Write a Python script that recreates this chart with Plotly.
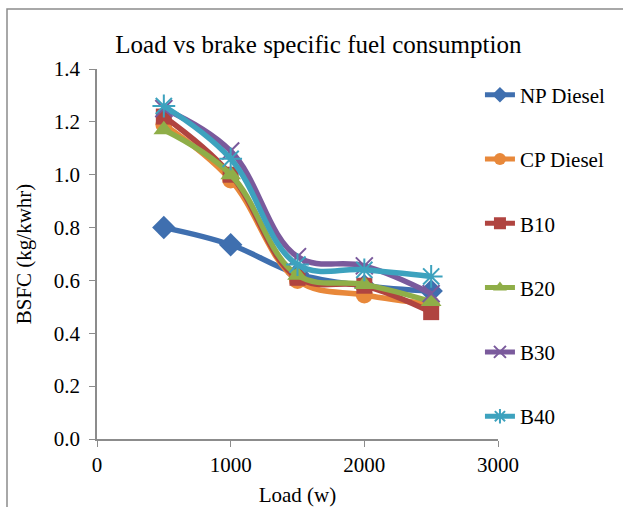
import plotly.graph_objects as go

load = [500, 1000, 1500, 2000, 2500]
np_diesel = [0.80, 0.735, 0.625, 0.58, 0.56]
cp_diesel = [1.19, 0.98, 0.60, 0.545, 0.51]
b10 = [1.22, 1.00, 0.61, 0.58, 0.48]
b20 = [1.17, 1.00, 0.62, 0.585, 0.52]
b30 = [1.25, 1.09, 0.69, 0.655, 0.55]
b40 = [1.26, 1.06, 0.66, 0.64, 0.615]

names = ["NP Diesel", "CP Diesel", "B10", "B20", "B30", "B40"]
series = [np_diesel, cp_diesel, b10, b20, b30, b40]
colors = ["#3F6FAF", "#E8883A", "#B04440", "#8FAE48", "#7A5A9C", "#3DA2BE"]
symbols = ["diamond", "circle", "square", "triangle-up", "x-thin-open", "asterisk-open"]
sizes = [18, 17, 16, 18, 17, 19]

fig = go.Figure()
for i, (n, s) in enumerate(zip(names, series)):
    open_sym = symbols[i].endswith("open")
    fig.add_trace(go.Scatter(
        x=load, y=s, name=n, mode="lines+markers",
        line=dict(color=colors[i], width=5.5, shape="spline", smoothing=1.1),
        marker=dict(symbol=symbols[i], size=sizes[i], color=colors[i],
                    line=dict(color=colors[i], width=2 if open_sym else 0)),
        legendgroup=n,
    ))

serif = "Liberation Serif"
axis_font = dict(family=serif, size=21, color="#000")
fig.update_layout(
    width=623, height=507,
    paper_bgcolor="white", plot_bgcolor="white",
    margin=dict(l=97, r=125, t=69, b=68, autoexpand=False),
    title=dict(text="Load vs brake specific fuel consumption",
               font=dict(family=serif, size=25, color="#000"),
               x=0.511, xanchor="center", y=0.912, yanchor="middle"),
    xaxis=dict(range=[0, 3000], tickvals=[0, 1000, 2000, 3000],
               showgrid=False, zeroline=False, showline=True,
               linecolor="#8c8c8c", linewidth=1.5, automargin=False,
               ticks="outside", ticklen=6, tickcolor="#8c8c8c",
               tickfont=axis_font,
               title=dict(text="Load (w)", font=dict(family=serif, size=21, color="#000"), standoff=12)),
    yaxis=dict(range=[0, 1.4], tickvals=[0, 0.2, 0.4, 0.6, 0.8, 1.0, 1.2, 1.4],
               tickformat=".1f",
               showgrid=False, zeroline=False, showline=True,
               linecolor="#8c8c8c", linewidth=1.5, automargin=False,
               ticks="outside", ticklen=6, tickcolor="#8c8c8c",
               tickfont=axis_font, ticklabelstandoff=5,
               title=dict(text="BSFC (kg/kwhr)", font=dict(family=serif, size=21, color="#000"), standoff=16)),
    legend=dict(x=0.955, xanchor="left", y=0.985, yanchor="top",
                font=dict(family=serif, size=21, color="#000"),
                traceorder="grouped", tracegroupgap=34, itemsizing="constant",
                maxheight=490,
                bgcolor="rgba(0,0,0,0)"),
    shapes=[dict(type="rect", xref="paper", yref="paper",
                 x0=(7 - 97) / 401, x1=(640 - 97) / 401,
                 y0=(439 - 520) / 370, y1=(439 - 9) / 370,
                 line=dict(color="#8c8c8c", width=1.5), fillcolor="rgba(0,0,0,0)", layer="below")],
)

fig.write_html("out.html")
